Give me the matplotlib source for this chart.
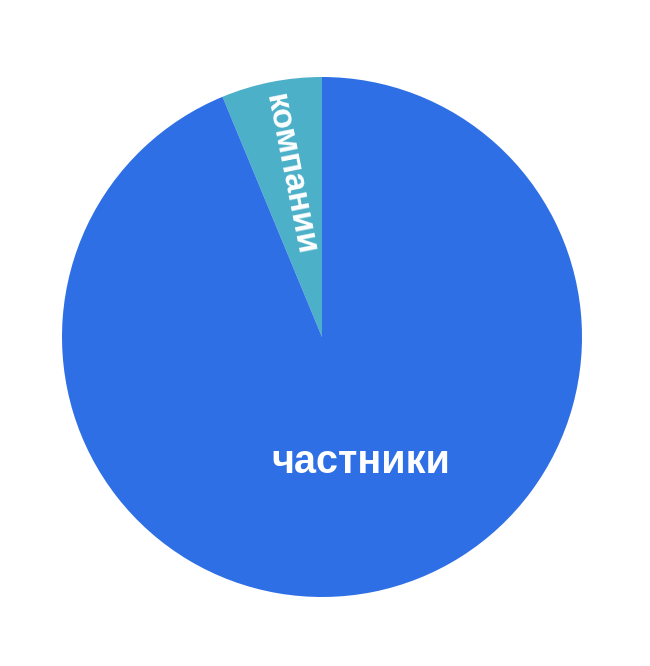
import numpy as np
import matplotlib
matplotlib.use("Agg")
import matplotlib.pyplot as plt

# доли (в процентах)
labels = ["компании", "частники"]
values = [6.25, 93.75]
colors = ["#4CB0C9", "#2E6FE5"]

plt.rcParams['font.family'] = ['Liberation Sans', 'DejaVu Sans']

fig = plt.figure(figsize=(6.5, 6.66), dpi=100)
ax = fig.add_axes([62 / 650, 69 / 666, 520 / 650, 520 / 666])

wedges, _ = ax.pie(values, colors=colors, startangle=90, counterclock=True,
                   radius=1, wedgeprops=dict(linewidth=0))
ax.set_xlim(-1, 1)
ax.set_ylim(-1, 1)
ax.set_aspect('equal')
ax.axis('off')

# подписи: маленький сектор - вдоль биссектрисы, большой - горизонтально
label_r = [0.637, 0.49]
label_dx = [0.0, 0.052]
label_size = [24.5, 28.5]
for i, (w, lab) in enumerate(zip(wedges, labels)):
    mid_deg = (w.theta1 + w.theta2) / 2
    mid = np.deg2rad(mid_deg)
    rot = mid_deg - 180 if i == 0 else 0
    ax.text(label_r[i] * np.cos(mid) + label_dx[i], label_r[i] * np.sin(mid), lab,
            color="white", fontsize=label_size[i], fontweight="bold",
            rotation=rot, rotation_mode="anchor", ha="center", va="center")

fig.savefig("out.png", dpi=100)
